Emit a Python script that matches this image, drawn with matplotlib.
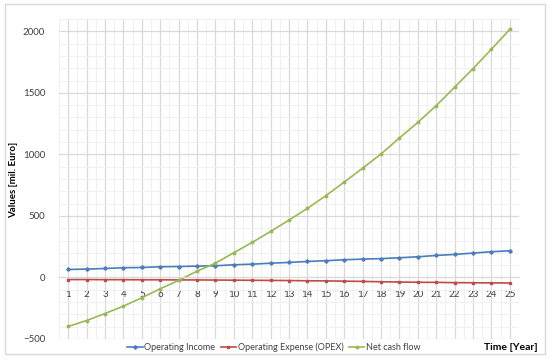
import matplotlib
matplotlib.use("Agg")
import matplotlib.pyplot as plt
from matplotlib.patches import Rectangle
from matplotlib.ticker import MultipleLocator

plt.rcParams['font.family'] = ['Lato', 'DejaVu Sans']

# data
years = list(range(1, 26))
operating_income = [65, 68, 73, 79, 81, 87, 89, 92, 95, 103, 108, 116, 122, 130, 136,
                    144, 149, 153, 160, 168, 179, 187, 198, 209, 217]
opex = [-17, -17, -18, -18, -19, -19, -20, -20, -21, -22, -23, -24, -25, -27, -28,
        -30, -32, -35, -37, -39, -40, -42, -43, -44, -45]
net_cash_flow = [-398, -350, -293, -233, -165, -92, -24, 51, 116, 201, 285, 374, 466, 561, 664,
                 775, 888, 1003, 1133, 1260, 1396, 1545, 1697, 1854, 2016]

series_names = ["Operating Income", "Operating Expense (OPEX)", "Net cash flow"]
colors = ["#4A7EBB", "#BE4B48", "#98B954"]

fig = plt.figure(figsize=(5.5, 3.6), dpi=100)
fig.patches.append(Rectangle((5 / 550, 6 / 360), 540 / 550, 350 / 360, transform=fig.transFigure,
                             fill=False, edgecolor="#D9D9D9", linewidth=1))
ax = fig.add_axes([59 / 550, 21 / 360, 460 / 550, 320 / 360])

ax.plot(years, operating_income, color=colors[0], marker="D", markersize=1.8, linewidth=1.2,
        label=series_names[0])
ax.plot(years, opex, color=colors[1], marker="s", markersize=1.8, linewidth=1.2,
        label=series_names[1])
ax.plot(years, net_cash_flow, color=colors[2], marker="o", markersize=1.8, linewidth=1.2,
        label=series_names[2])

ax.set_xlim(0.5, 25.5)
ax.set_ylim(-500, 2100)
ax.yaxis.set_minor_locator(MultipleLocator(100))
ax.set_yticks([-500, 0, 500, 1000, 1500, 2000])
ax.set_xticks(years)
ax.xaxis.set_minor_locator(MultipleLocator(0.5))

ax.grid(which="major", color="#D9D9D9", linewidth=0.9)
ax.grid(which="minor", color="#F0F0F0", linewidth=0.7)
ax.set_axisbelow(True)

for s in ["top", "right", "left"]:
    ax.spines[s].set_visible(False)
ax.spines["bottom"].set_position(("data", 0))
ax.spines["bottom"].set_color("#D9D9D9")

ax.tick_params(axis="both", which="both", length=0, labelsize=7, colors="#404040")
ax.tick_params(axis="x", pad=9)
ax.tick_params(axis="y", pad=10)

fig.text(14 / 550, 0.5, "Values [mil. Euro]", rotation=90, ha="center", va="center",
         fontsize=7, fontweight="bold", color="#000000")
fig.text(511 / 550, 1 - 347 / 360, "Time [Year]", ha="center", va="center",
         fontsize=7.5, fontweight="bold", color="#000000")

fig.legend(loc="center", bbox_to_anchor=(274 / 550, 1 - 347 / 360), ncol=3, frameon=False,
           prop={"family": ["Liberation Sans Narrow", "Lato"], "size": 6.5},
           handlelength=1.7, columnspacing=0.6, handletextpad=0.2,
           labelcolor="#404040")

fig.savefig("out.png", dpi=100)
